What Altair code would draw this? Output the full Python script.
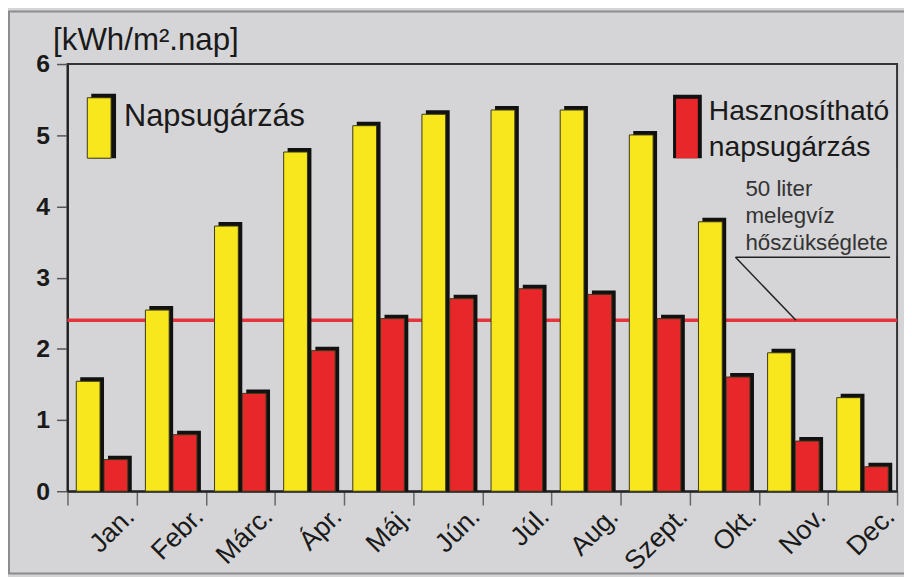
import altair as alt
import pandas as pd

# ---- data ----
months = ["Jan.", "Febr.", "Márc.", "Ápr.", "Máj.", "Jún.", "Júl.", "Aug.",
          "Szept.", "Okt.", "Nov.", "Dec."]
napsugarzas = [1.6, 2.6, 3.78, 4.82, 5.19, 5.35, 5.41, 5.41, 5.06, 3.84, 2.0, 1.37]
hasznosithato = [0.5, 0.85, 1.43, 2.03, 2.48, 2.76, 2.9, 2.82, 2.48, 1.66, 0.76, 0.4]
series = ["Napsugárzás", "Hasznosítható napsugárzás"]
colors = ["#f8e71c", "#e8272b"]
demand = 2.4
y_ticks = [0, 1, 2, 3, 4, 5, 6]
y_title = "[kWh/m².nap]"
annotation_lines = ["50 liter", "melegvíz", "hőszükséglete"]

df_sun = pd.DataFrame({"month": months, "series": series[0], "value": napsugarzas})
df_use = pd.DataFrame({"month": months, "series": series[1], "value": hasznosithato})

BG = "#d5d5d7"
FONT = "Liberation Sans"
W, H = 837, 431
YMAX = 6
BAR = 24      # bar face width (px)
SH = 4        # shadow offset (px)
one = alt.Data(values=[{"k": 1}])

x = alt.X(
    "month:N", sort=months,
    scale=alt.Scale(paddingInner=0, paddingOuter=0),
    axis=alt.Axis(title=None, labelAngle=-45, labelAlign="right", labelBaseline="middle",
                  labelFontSize=27, labelColor="#1a1a1a", labelOffset=28, labelPadding=7,
                  tickSize=14, tickColor="#666666", tickWidth=1.5, tickBand="extent",
                  domainColor="#222222", domainWidth=2, grid=False),
)
y = alt.Y(
    "value:Q", stack=None,
    scale=alt.Scale(domain=[0, YMAX], nice=False, zero=True),
    axis=alt.Axis(values=y_ticks, format="d", title=y_title, titleAngle=0, titleAlign="left",
                  titleBaseline="alphabetic", titleX=-15, titleY=-15, titleFontSize=31.5,
                  titleFontWeight="normal", titleColor="#1a1a1a",
                  labelFontSize=25, labelFontWeight="bold", labelColor="#1a1a1a", labelPadding=7,
                  tickSize=11, tickColor="#555555", tickWidth=1.5,
                  gridColor="#505050", gridWidth=1.5,
                  domainColor="#222222", domainWidth=2),
)
color = alt.Color("series:N", scale=alt.Scale(domain=series, range=colors), legend=None)

demand_line = alt.Chart(one).mark_rule(color="#e5353b", strokeWidth=3.5).encode(
    y=alt.datum(demand)
)


def bars(data, centre_offset):
    shadow = alt.Chart(data).mark_bar(
        color="#111111", size=BAR, xOffset=centre_offset + SH
    ).encode(x=x, y=y)
    face = alt.Chart(data).mark_bar(
        size=BAR, xOffset=centre_offset, yOffset=SH, stroke="#3a3a1a", strokeWidth=1
    ).encode(x=x, y=y, color=color)
    return shadow, face


sun_shadow, sun_face = bars(df_sun, -14)
use_shadow, use_face = bars(df_use, 14)

# legend (drawn by hand to match the reference layout)
leg_y_shadow = alt.Chart(one).mark_rect(color="#111111").encode(
    x=alt.value(24), x2=alt.value(49), y=alt.value(30), y2=alt.value(95))
leg_y_face = alt.Chart(one).mark_rect(color=colors[0], stroke="#3a3a1a", strokeWidth=1).encode(
    x=alt.value(20), x2=alt.value(44), y=alt.value(34), y2=alt.value(95))
leg_y_bg = alt.Chart(one).mark_rect(color=BG).encode(
    x=alt.value(50), x2=alt.value(248), y=alt.value(38), y2=alt.value(74))
leg_y_text = alt.Chart(one).mark_text(
    text=series[0], align="left", baseline="alphabetic", fontSize=31, color="#1a1a1a"
).encode(x=alt.value(57), y=alt.value(63))

leg_r_shadow = alt.Chart(one).mark_rect(color="#111111").encode(
    x=alt.value(611), x2=alt.value(640), y=alt.value(31), y2=alt.value(95))
leg_r_face = alt.Chart(one).mark_rect(color=colors[1]).encode(
    x=alt.value(614), x2=alt.value(636), y=alt.value(35), y2=alt.value(95))
leg_r_text = alt.Chart(one).mark_text(
    text=series[1].split(" "), align="left", baseline="alphabetic", fontSize=28.5,
    lineHeight=37, color="#1a1a1a"
).encode(x=alt.value(647), y=alt.value(56))

# annotation of the demand line
y_demand_px = H * (1 - demand / YMAX)
ann_bg = alt.Chart(one).mark_rect(color=BG).encode(
    x=alt.value(674), x2=alt.value(836), y=alt.value(106), y2=alt.value(194))
ann_text = alt.Chart(one).mark_text(
    text=annotation_lines, align="left", baseline="alphabetic", fontSize=22.5,
    lineHeight=27.5, color="#333333"
).encode(x=alt.value(684), y=alt.value(133))
ann_under = alt.Chart(one).mark_rule(color="#222222", strokeWidth=1.5).encode(
    x=alt.value(674), x2=alt.value(830), y=alt.value(195))
ann_leader = alt.Chart(one).mark_rule(color="#222222", strokeWidth=1.5).encode(
    x=alt.value(674), x2=alt.value(735), y=alt.value(195), y2=alt.value(y_demand_px))

frame = alt.Chart(one).mark_rect(fillOpacity=0, stroke="#8c8c8c", strokeWidth=2).encode(
    x=alt.value(-59), x2=alt.value(860), y=alt.value(-53), y2=alt.value(514))

chart = alt.layer(
    demand_line, sun_shadow, use_shadow, sun_face, use_face,
    leg_y_shadow, leg_y_face, leg_y_bg, leg_y_text,
    leg_r_shadow, leg_r_face, leg_r_text,
    ann_bg, ann_text, ann_under, ann_leader, frame,
).properties(
    width=W, height=H,
    padding={"left": 60, "top": 54, "right": 7, "bottom": 84},
    autosize=alt.AutoSizeParams(type="none"),
    background=BG,
).configure(font=FONT).configure_view(
    stroke="#333333", strokeWidth=2
)

chart.save("out.html", embed_options={"renderer": "svg", "actions": False})
